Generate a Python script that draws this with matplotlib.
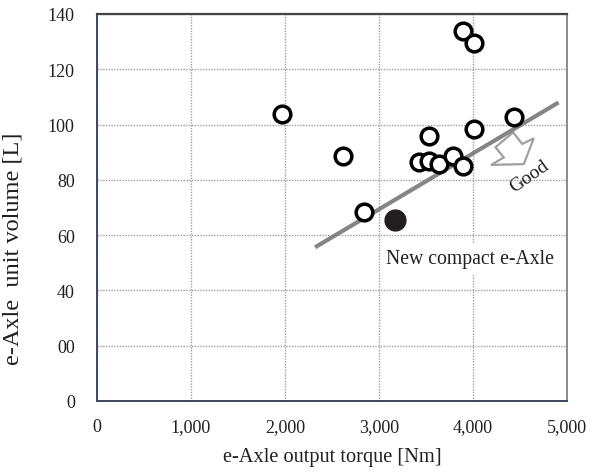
import matplotlib
matplotlib.use("Agg")
import matplotlib.pyplot as plt
from matplotlib.patches import Polygon

plt.rcParams['font.family'] = ['Liberation Serif', 'DejaVu Serif']

# ---- data ----
torque = [1967, 2615, 2836, 3422, 3528, 3528, 3635, 3788, 3890, 4015, 3895, 4015, 4434]
volume = [103.8, 88.7, 68.2, 86.3, 96.0, 86.9, 85.7, 88.7, 85.1, 98.4, 133.7, 129.5, 102.6]
new_torque = [3173]
new_volume = [65.6]
trend_x = [2320, 4910]
trend_y = [55.6, 108.0]
x_ticks = [0, 1000, 2000, 3000, 4000, 5000]
x_ticklabels = ["0", "1,000", "2,000", "3,000", "4,000", "5,000"]
y_ticks = [0, 20, 40, 60, 80, 100, 120, 140]
y_ticklabels = ["0", "00", "40", "60", "80", "100", "120", "140"]
arrow_x = [4239, 4427, 4523, 4646, 4540, 4193, 4327]
arrow_y = [91.8, 97.2, 93.0, 95.0, 85.7, 85.4, 88.1]

ink = '#231f20'

fig = plt.figure(figsize=(5.96, 4.77), dpi=100)
ax = fig.add_axes([97/596, 1-402/477, 470/596, 387/477])
ax.set_xlim(0, 5000)
ax.set_ylim(0, 140)

ax.set_xticks(x_ticks)
ax.set_xticklabels(x_ticklabels)
ax.set_yticks(y_ticks)
ax.set_yticklabels(y_ticklabels)
ax.tick_params(length=0, labelsize=13, colors=ink)
ax.tick_params(axis='y', pad=16)
ax.tick_params(axis='x', pad=12)

ax.grid(True, color='#a0a0a0', linestyle=(0, (1, 1)), linewidth=1.0)
ax.set_axisbelow(True)

for s in ['left', 'bottom']:
    ax.spines[s].set_color('#3d4a5c')
    ax.spines[s].set_linewidth(1.4)
ax.spines['top'].set_color('#444444')
ax.spines['top'].set_linewidth(1.6)
ax.spines['right'].set_color('#777777')
ax.spines['right'].set_linewidth(1.2)

# arrow (good direction)
ax.add_patch(Polygon(list(zip(arrow_x, arrow_y)), closed=True, facecolor='white',
                     edgecolor='#a0a0a0', linewidth=1.6, zorder=2))

# trend line
ax.plot(trend_x, trend_y, color='#858585', linewidth=3.0, solid_capstyle='butt', zorder=3)

# data points
ax.plot(torque, volume, linestyle='none', marker='o', markersize=12,
        markerfacecolor='white', markeredgecolor='black', markeredgewidth=2.5, zorder=4)
ax.plot(new_torque, new_volume, linestyle='none', marker='o', markersize=15,
        markerfacecolor=ink, markeredgecolor=ink, zorder=5)

ax.text(3074, 51.6, "New compact e-Axle", fontsize=14.2, color=ink, ha='left', va='center',
        bbox=dict(boxstyle='square,pad=0.3', facecolor='white', edgecolor='none'), zorder=6)
ax.text(4606, 81.3, "Good", fontsize=14, color=ink, rotation=35,
        ha='center', va='center', rotation_mode='anchor', zorder=6)

ax.set_xlabel("e-Axle output torque [Nm]", fontsize=14.7, color=ink, labelpad=9)
ax.set_ylabel("e-Axle  unit volume [L]", fontsize=17.5, color=ink)
ax.yaxis.set_label_coords(-0.157, 0.397)

fig.savefig("out.png", dpi=100)
